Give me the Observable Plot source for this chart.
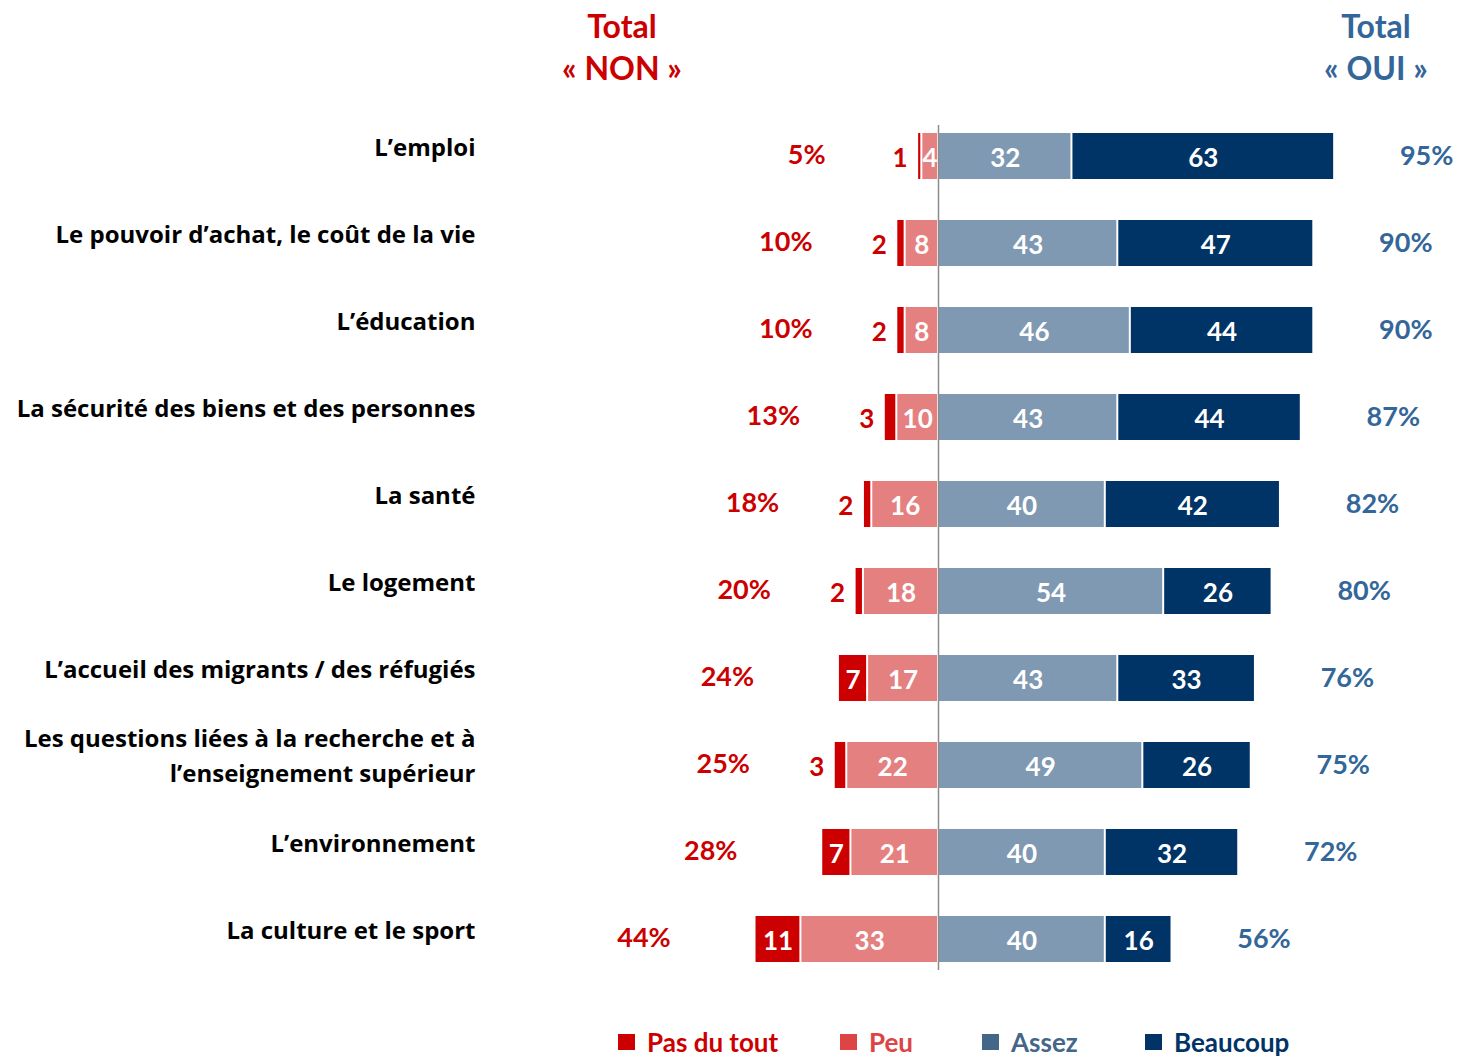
<!DOCTYPE html>
<html>
<head>
<meta charset="utf-8">
<script src="https://cdn.jsdelivr.net/npm/d3@7"></script>
<script src="https://cdn.jsdelivr.net/npm/@observablehq/plot@0.6"></script>
<style>
  body { margin: 0; background: #fff; font-family: Lato, "Open Sans", sans-serif; }
  #wrap { position: relative; width: 1457px; height: 1058px; overflow: hidden; }
  .hdr { position: absolute; top: 5px; width: 220px; text-align: center; font-weight: bold; font-size: 32px; line-height: 42px; }
  #chart { position: absolute; left: 0; top: 100px; }
  .leg { position: absolute; top: 1028px; display: flex; align-items: center; font-weight: bold; font-size: 26px; line-height: 28px; }
  .leg span.sw { display: inline-block; width: 17px; height: 16px; margin-right: 12px; }
</style>
</head>
<body>
<div id="wrap">
  <div class="hdr" style="left:512px;color:#cc0000">Total<br>« NON »</div>
  <div class="hdr" style="left:1266px;color:#336699">Total<br>« OUI »</div>
  <div id="chart"></div>
  <div id="legend"></div>
</div>
<script>
const categories = [
  "L’emploi",
  "Le pouvoir d’achat, le coût de la vie",
  "L’éducation",
  "La sécurité des biens et des personnes",
  "La santé",
  "Le logement",
  "L’accueil des migrants / des réfugiés",
  "Les questions liées à la recherche et à\nl’enseignement supérieur",
  "L’environnement",
  "La culture et le sport"
];
const pasDuTout = [1, 2, 2, 3, 2, 2, 7, 3, 7, 11];
const peu       = [4, 8, 8, 10, 16, 18, 17, 22, 21, 33];
const assez     = [32, 43, 46, 43, 40, 54, 43, 49, 40, 40];
const beaucoup  = [63, 47, 44, 44, 42, 26, 33, 26, 32, 16];
const totalNon  = [5, 10, 10, 13, 18, 20, 24, 25, 28, 44];
const totalOui  = [95, 90, 90, 87, 82, 80, 76, 75, 72, 56];

const seriesNames = ["Pas du tout", "Peu", "Assez", "Beaucoup"];
const barColors = ["#cc0000", "#e58080", "#8099b3", "#003366"];
const legendColors = ["#cc0000", "#dd4444", "#446688", "#003366"];

const segs = [];
categories.forEach((c, i) => {
  segs.push({cat: c, s: 0, v: pasDuTout[i], x1: -(peu[i] + pasDuTout[i]), x2: -peu[i]});
  segs.push({cat: c, s: 1, v: peu[i], x1: -peu[i], x2: 0});
  segs.push({cat: c, s: 2, v: assez[i], x1: 0, x2: assez[i]});
  segs.push({cat: c, s: 3, v: beaucoup[i], x1: assez[i], x2: assez[i] + beaucoup[i]});
});
const inside = segs.filter(d => !(d.s === 0 && d.v < 5));
const outside = segs.filter(d => d.s === 0 && d.v < 5);
const totals = categories.map((c, i) => ({cat: c, non: totalNon[i], oui: totalOui[i]}));

const pxPerUnit = 4.17, zeroX = 938, mLeft = 480, W = 1457;
const plot = Plot.plot({
  width: W,
  height: 900,
  marginLeft: mLeft,
  marginRight: 0,
  marginTop: 11,
  marginBottom: 15,
  style: {fontFamily: "Lato, 'Open Sans', sans-serif", background: "white"},
  x: {domain: [-(zeroX - mLeft) / pxPerUnit, (W - zeroX) / pxPerUnit], axis: null},
  y: {domain: categories, paddingInner: 0.47, paddingOuter: 0.235, axis: null},
  marks: [
    Plot.barX(segs, {y: "cat", x1: "x1", x2: "x2", fill: d => barColors[d.s], insetLeft: 1, insetRight: 1}),
    Plot.ruleX([0], {stroke: "#8c8c8c", strokeWidth: 1.5, insetTop: 14, insetBottom: 15}),
    Plot.text(inside, {y: "cat", x: d => (d.x1 + d.x2) / 2, text: d => String(d.v), fill: "white", fontSize: 26, fontWeight: "bold", dy: 2}),
    Plot.text(outside, {y: "cat", x: "x1", text: d => String(d.v), fill: "#cc0000", fontSize: 26, fontWeight: "bold", textAnchor: "end", dx: -10, dy: 2}),
    Plot.text(totals, {y: "cat", x: d => -d.non, text: d => d.non + "%", fill: "#cc0000", fontSize: 27, fontWeight: "bold", dx: -111, dy: -1}),
    Plot.text(totals, {y: "cat", x: "oui", text: d => d.oui + "%", fill: "#336699", fontSize: 27, fontWeight: "bold", dx: 92, dy: 0}),
    Plot.text(categories, {y: d => d, text: d => d, frameAnchor: "left", textAnchor: "end", dx: -5, dy: -12, fill: "black", fontSize: 24, fontWeight: "bold", lineHeight: 1.45, fontFamily: "'Open Sans', sans-serif"})
  ]
});
document.getElementById("chart").appendChild(plot);

const legLefts = [618, 840, 982, 1145];
const legend = document.getElementById("legend");
seriesNames.forEach((n, i) => {
  const d = document.createElement("div");
  d.className = "leg";
  d.style.left = legLefts[i] + "px";
  d.style.color = legendColors[i];
  d.innerHTML = `<span class="sw" style="background:${legendColors[i]}"></span>${n}`;
  legend.appendChild(d);
});
</script>
</body>
</html>
